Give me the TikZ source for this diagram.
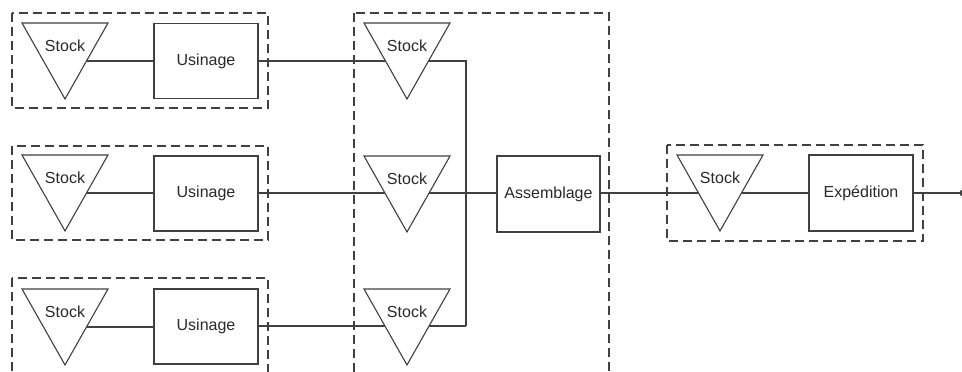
\documentclass[tikz,border=0pt]{standalone}
\usepackage{fontspec}
\setmainfont{Liberation Sans}
\usetikzlibrary{backgrounds}
\definecolor{ink}{HTML}{404040}
\definecolor{txt}{HTML}{2A2A2A}
\tikzset{
  x=1pt, y=-1pt,
  every node/.style={text=txt, font=\fontsize{16}{19}\selectfont},
  procbox/.style={draw=ink, line width=1.1pt, fill=white, minimum width=104pt, minimum height=75pt, inner sep=0pt},
  tri/.style={draw=ink, line width=1.1pt, fill=white, line join=miter},
  conn/.style={draw=ink, line width=1.1pt},
  group/.style={draw=ink, line width=1.3pt, dash pattern=on 9pt off 5pt},
}
% \stocktri{name}{cx}{top}
\newcommand{\stocktri}[3]{%
  \draw[tri] (#2-43,#3) -- (#2+43,#3) -- (#2,#3+76) -- cycle;
  \node (#1) at (#2,#3+23) {Stock};
  \coordinate (#1-r) at (#2+21.5,#3+38);
  \coordinate (#1-l) at (#2-21.5,#3+38);
}
\begin{document}
\begin{tikzpicture}
\useasboundingbox (0,0) rectangle (962,372);
% left column
\stocktri{s1}{65}{23}
\node[procbox] (u1) at (206,61) {Usinage};
\stocktri{s2}{65}{155}
\node[procbox] (u2) at (206,193.5) {Usinage};
\stocktri{s3}{65}{289}
\node[procbox] (u3) at (206,326.5) {Usinage};
% middle column
\stocktri{m1}{407}{23}
\stocktri{m2}{407}{156}
\stocktri{m3}{407}{289}
\node[procbox, minimum width=103pt, minimum height=76pt] (as) at (548.5,194) {Assemblage};
% right group
\stocktri{r1}{720}{155}
\node[procbox, minimum height=76pt] (ex) at (861,193) {Exp\'edition};
\coordinate (bus1) at (466,61);
\coordinate (bus2) at (466,193);
\coordinate (bus3) at (466,326);
\node[fill=ink, circle, minimum size=7pt, inner sep=0pt] (out) at (963,193) {};
\begin{pgfonlayer}{background}
  \draw[group] (12,13) rectangle (268,108);
  \draw[group] (12,146) rectangle (268,240);
  \draw[group] (12,278) rectangle (268,372.3);
  \draw[group] (354,13) rectangle (609,372.3);
  \draw[group] (667,145) rectangle (923,241);
  \draw[conn] (s1-r) -- (u1.west);
  \draw[conn] (s2-r) -- (u2.west |- s2-r);
  \draw[conn] (s3-r) -- (u3.west |- s3-r);
  \draw[conn] (u1.east) -- (bus1) -- (bus3);
  \draw[conn] (u3.east |- bus3) -- (bus3);
  \draw[conn] (u2.east |- bus2) -- (bus2);
  \draw[draw=ink, line width=1.6pt] (bus2) -- (as.west |- bus2);
  \draw[conn] (as.east |- bus2) -- (ex.west);
  \draw[conn] (ex.east) -- (out.center);
\end{pgfonlayer}
\end{tikzpicture}
\end{document}
